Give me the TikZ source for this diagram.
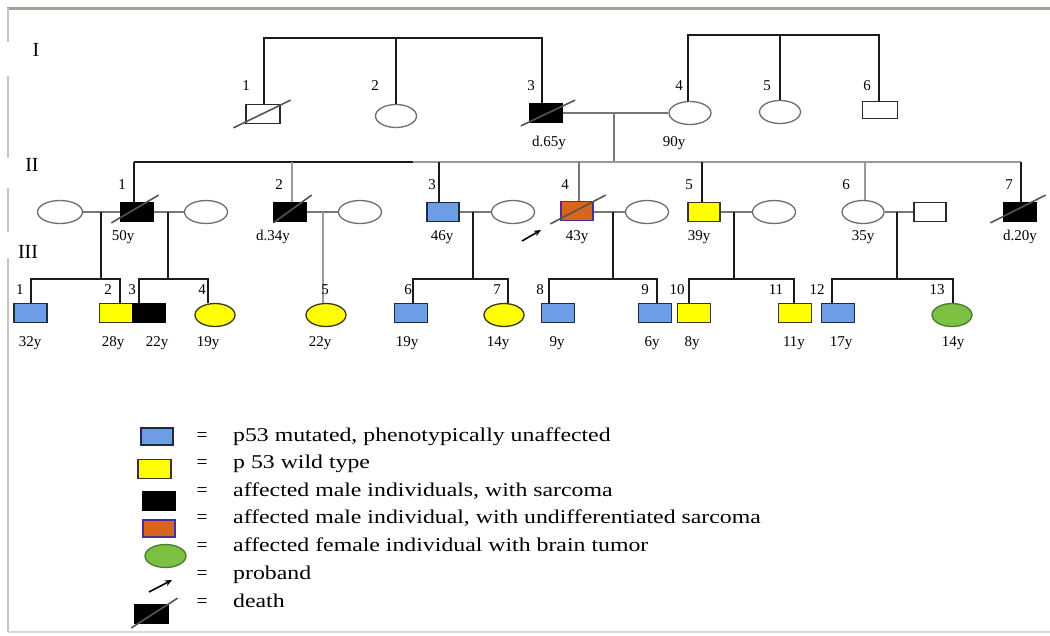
\documentclass[tikz,border=0pt]{standalone}
\usepackage{fontspec}
\setmainfont{Liberation Serif}
\newfontfamily\legfont[FakeStretch=1.22]{Liberation Serif}
\usetikzlibrary{shapes.geometric,arrows.meta}
\definecolor{edgedark}{HTML}{2A2A2A}
\definecolor{edgegray}{HTML}{6E6E6E}
\definecolor{mutblue}{HTML}{6E9DE8}
\definecolor{mutedge}{HTML}{1F2A44}
\definecolor{wildyellow}{HTML}{FFFF00}
\definecolor{wildedge}{HTML}{3A3A1A}
\definecolor{undifforange}{HTML}{D9651B}
\definecolor{undiffedge}{HTML}{4B2E9E}
\definecolor{braingreen}{HTML}{7DC143}
\definecolor{brainedge}{HTML}{4A7A30}
\definecolor{plblack}{HTML}{1A1A1A}
\definecolor{plgray}{HTML}{9A9A9A}
\definecolor{mgray}{HTML}{777777}
\definecolor{slashgray}{HTML}{555555}
\definecolor{framebrown}{HTML}{A89E94}
\definecolor{framegray}{HTML}{C8C4C0}
\definecolor{framelight}{HTML}{D8D8D8}
\newcommand\dmark[5]{\draw[deathline] ([shift={(#2,#3)}]#1.south west) -- ([shift={(#4,#5)}]#1.north east);}
\begin{document}
\begin{tikzpicture}[x=1pt,y=-1pt,
  male/.style={rectangle,minimum width=33pt,minimum height=18.5pt,inner sep=0pt,line width=1.3pt,draw=edgedark},
  female/.style={ellipse,minimum width=41pt,minimum height=23pt,inner sep=0pt,line width=1.3pt,draw=edgegray},
  mut/.style={fill=mutblue,draw=mutedge},
  wild/.style={fill=wildyellow,draw=wildedge},
  sarc/.style={fill=black,draw=black},
  undiff/.style={fill=undifforange,draw=undiffedge},
  brain/.style={fill=braingreen,draw=brainedge},
  pl/.style={line width=1.9pt,draw=plblack},
  gl/.style={line width=1.9pt,draw=plgray},
  ml/.style={line width=1.6pt,draw=mgray},
  deathline/.style={line width=1.6pt,draw=slashgray},
  lbl/.style={font=\fontsize{15}{15}\selectfont,inner sep=0pt},
  gen/.style={font=\fontsize{20}{20}\selectfont,inner sep=0pt},
  leg/.style={font=\legfont\fontsize{19.5}{19.5}\selectfont,inner sep=0pt,anchor=base west},
  eqs/.style={font=\fontsize{19.5}{19.5}\selectfont,inner sep=0pt,anchor=base}
]
\useasboundingbox (0,0) rectangle (1050,635);
\fill[white] (0,0) rectangle (1050,635);
% frame
\draw[framebrown,line width=2.2pt] (7,8.5) -- (1050,8.5);
\draw[framegray,line width=2pt] (8,8) -- (8,42) (8,76) -- (8,158) (8,188) -- (8,232) (8,258) -- (8,632);
\draw[framelight,line width=1.5pt] (8,632) -- (1050,632);
% generation numerals
\node[gen] (gI) at (36,50) {I};
\node[gen] (gII) at (32,165) {II};
\node[gen] (gIII) at (28,252) {III};

% ---------- Generation I ----------
\node[male,minimum width=34pt] (I1) at (263,114) {};
\node[female] (I2) at (396,116) {};
\node[male,sarc] (I3) at (546,113) {};
\node[female,minimum width=42pt] (I4) at (690,113) {};
\node[female] (I5) at (780,112) {};
\node[male,minimum width=35pt,minimum height=17pt] (I6) at (880,110) {};
\dmark{I1}{-12}{4}{10}{-4}
\dmark{I3}{-8}{3}{12}{-3}

\coordinate (tA1) at (264,38);
\coordinate (tA3) at (542,38);
\draw[pl] (tA1 |- I1.north) -- (tA1) -- (tA3) -- (tA3 |- I3.north);
\draw[pl] (I2.north) -- (I2.north |- tA1);
\coordinate (tB1) at (688,35);
\coordinate (tB3) at (879,35);
\draw[pl] (tB1 |- I4.north) -- (tB1) -- (tB3) -- (tB3 |- I6.north);
\draw[pl] (I5.north) -- (I5.north |- tB1);
\draw[ml] (I3.east) -- (I4.west);
\coordinate (mI) at (614,113);
\coordinate (dII) at (614,162);
\draw[ml] (mI) -- (dII);

\node[lbl] (nI1) at (246,86) {1};
\node[lbl] (nI2) at (375,86) {2};
\node[lbl] (nI3) at (531,86) {3};
\node[lbl] (nI4) at (679,86) {4};
\node[lbl] (nI5) at (767,86) {5};
\node[lbl] (nI6) at (867,86) {6};
\node[lbl] (aI3) at (549,143) {d.65y};
\node[lbl] (aI4) at (674,143) {90y};

% ---------- Generation II ----------
\node[female,minimum width=45pt] (W1a) at (60,212) {};
\node[male,sarc,minimum width=32pt] (II1) at (137,212) {};
\node[female,minimum width=43pt] (W1b) at (206,212) {};
\node[male,sarc,minimum width=32pt] (II2) at (290,212) {};
\node[female,minimum width=43pt] (W2) at (360,212) {};
\node[male,mut,minimum width=32pt] (II3) at (443,212) {};
\node[female,minimum width=43pt] (W3) at (513,212) {};
\node[male,undiff,minimum width=32pt] (II4) at (577,211) {};
\node[female,minimum width=43pt] (W4) at (647,212) {};
\node[male,wild,minimum width=32pt] (II5) at (704,212) {};
\node[female,minimum width=43pt] (W5) at (774,212) {};
\node[female,minimum width=42pt] (II6) at (863,212) {};
\node[male,minimum width=32pt] (H6) at (930,212) {};
\node[male,sarc,minimum width=32pt] (II7) at (1020,212) {};
\dmark{II1}{-9}{1}{5}{-7}
\dmark{II2}{0}{1}{5}{-7}
\dmark{II4}{-10}{3}{12}{-6}
\dmark{II7}{-13}{1}{9}{-7}

\coordinate (g1) at (134,162);
\coordinate (gsplit) at (413,162);
\coordinate (g7) at (1021,162);
\draw[pl] (g1) -- (gsplit);
\draw[gl] (gsplit) -- (g7);
\draw[pl] (g1) -- (g1 |- II1.north);
\draw[gl] (II2.north) ++(2,0) coordinate (d2) (d2) -- (d2 |- g1);
\draw[pl] (II3.north) ++(-4,0) coordinate (d3) (d3) -- (d3 |- g1);
\draw[ml] (II4.north) ++(2,0) coordinate (d4) (d4) -- (d4 |- g1);
\draw[pl] (II5.north) ++(-2,0) coordinate (d5) (d5) -- (d5 |- g1);
\draw[gl] (II6.north) ++(2,0) coordinate (d6) (d6) -- (d6 |- g1);
\draw[pl] (g7) -- (g7 |- II7.north);

\draw[ml] (W1a.east) -- (II1.west);
\draw[ml] (II1.east) -- (W1b.west);
\draw[ml] (II2.east) -- (W2.west);
\draw[ml] (II3.east) -- (W3.west);
\draw[ml] (II4.east |- W4.west) -- (W4.west);
\draw[ml] (II5.east) -- (W5.west);
\draw[ml] (II6.east) -- (H6.west);

\node[lbl] (nII1) at (122,185) {1};
\node[lbl] (nII2) at (279,185) {2};
\node[lbl] (nII3) at (432,185) {3};
\node[lbl] (nII4) at (565,185) {4};
\node[lbl] (nII5) at (689,185) {5};
\node[lbl] (nII6) at (846,185) {6};
\node[lbl] (nII7) at (1009,185) {7};
\node[lbl] (aII1) at (123,237) {50y};
\node[lbl] (aII2) at (273,237) {d.34y};
\node[lbl] (aII3) at (442,237) {46y};
\node[lbl] (aII4) at (577,237) {43y};
\node[lbl] (aII5) at (699,237) {39y};
\node[lbl] (aII6) at (863,237) {35y};
\node[lbl] (aII7) at (1020,237) {d.20y};

% proband arrow
\coordinate (pa1) at (522,241);
\coordinate (pa2) at (541,230);
\draw[line width=1.6pt,-{Stealth[length=7pt,width=6pt]}] (pa1) -- (pa2);

% ---------- Generation III ----------
\node[male,mut] (III1) at (30.5,313) {};
\node[male,wild] (III2) at (116,313) {};
\node[male,sarc] (III3) at (149,313) {};
\node[female,wild,minimum width=40pt] (III4) at (215,315) {};
\node[female,wild,minimum width=40pt] (III5) at (326,315) {};
\node[male,mut] (III6) at (411,313) {};
\node[female,wild,minimum width=40pt] (III7) at (504,315) {};
\node[male,mut] (III8) at (558,313) {};
\node[male,mut] (III9) at (655,313) {};
\node[male,wild] (III10) at (694,313) {};
\node[male,wild] (III11) at (795,313) {};
\node[male,mut] (III12) at (838,313) {};
\node[female,brain,minimum width=40pt] (III13) at (952,315) {};

% descent lines
\coordinate (m1a) at (101,212);
\coordinate (m1b) at (168,212);
\coordinate (m2) at (323,212);
\coordinate (m3) at (473,212);
\coordinate (m4) at (613,212);
\coordinate (m5) at (734,212);
\coordinate (m6) at (897,212);
\coordinate (s1aL) at (31,279);  \coordinate (s1aR) at (120,279);
\coordinate (s1bL) at (139,279); \coordinate (s1bR) at (208,279);
\coordinate (s3L) at (413,279);  \coordinate (s3R) at (508,279);
\coordinate (s4L) at (549,279);  \coordinate (s4R) at (657,279);
\coordinate (s5L) at (689,279);  \coordinate (s5R) at (794,279);
\coordinate (s6L) at (832,279);  \coordinate (s6R) at (953,279);

\draw[pl] (m1a) -- (m1a |- s1aL);
\draw[pl] (s1aL |- III1.north) -- (s1aL) -- (s1aR) -- (s1aR |- III2.north);
\draw[pl] (m1b) -- (m1b |- s1bL);
\draw[pl] (s1bL |- III3.north) -- (s1bL) -- (s1bR) -- (s1bR |- III4.north);
\draw[gl] (m2) -- (m2 |- III5.north);
\draw[pl] (m3) -- (m3 |- s3L);
\draw[pl] (s3L |- III6.north) -- (s3L) -- (s3R) -- (s3R |- III7.north);
\draw[pl] (m4) -- (m4 |- s4L);
\draw[pl] (s4L |- III8.north) -- (s4L) -- (s4R) -- (s4R |- III9.north);
\draw[pl] (m5) -- (m5 |- s5L);
\draw[pl] (s5L |- III10.north) -- (s5L) -- (s5R) -- (s5R |- III11.north);
\draw[pl] (m6) -- (m6 |- s6L);
\draw[pl] (s6L |- III12.north) -- (s6L) -- (s6R) -- (s6R |- III13.north);

\node[lbl] (nIII1) at (20,290) {1};
\node[lbl] (nIII2) at (108,290) {2};
\node[lbl] (nIII3) at (132,290) {3};
\node[lbl] (nIII4) at (202,290) {4};
\node[lbl] (nIII5) at (325,290) {5};
\node[lbl] (nIII6) at (408,290) {6};
\node[lbl] (nIII7) at (497,290) {7};
\node[lbl] (nIII8) at (540,290) {8};
\node[lbl] (nIII9) at (645,290) {9};
\node[lbl] (nIII10) at (677,290) {10};
\node[lbl] (nIII11) at (776,290) {11};
\node[lbl] (nIII12) at (817,290) {12};
\node[lbl] (nIII13) at (937,290) {13};
\node[lbl] (aIII1) at (30,343) {32y};
\node[lbl] (aIII2) at (113,343) {28y};
\node[lbl] (aIII3) at (157,343) {22y};
\node[lbl] (aIII4) at (208,343) {19y};
\node[lbl] (aIII5) at (320,343) {22y};
\node[lbl] (aIII6) at (407,343) {19y};
\node[lbl] (aIII7) at (498,343) {14y};
\node[lbl] (aIII8) at (557,343) {9y};
\node[lbl] (aIII9) at (652,343) {6y};
\node[lbl] (aIII10) at (692,343) {8y};
\node[lbl] (aIII11) at (794,343) {11y};
\node[lbl] (aIII12) at (841,343) {17y};
\node[lbl] (aIII13) at (953,343) {14y};

% ---------- Legend ----------
\node[male,mut,minimum width=32pt,minimum height=17pt] (Lmut) at (157,436.5) {};
\node[male,wild] (Lwild) at (154.5,469) {};
\node[male,sarc,minimum width=32pt] (Lsarc) at (159,501) {};
\node[male,undiff,minimum width=32pt,minimum height=17pt] (Lundiff) at (159,528.5) {};
\node[female,brain,minimum width=41pt,minimum height=23pt] (Lbrain) at (165.5,556) {};
\coordinate (La1) at (149,592);
\coordinate (La2) at (172,580);
\draw[line width=1.6pt,-{Stealth[length=7pt,width=6pt]}] (La1) -- (La2);
\node[male,sarc] (Ldeath) at (151.5,614) {};
\dmark{Ldeath}{-3}{4}{9}{-6}

\node[eqs] (e1) at (202,441) {=};
\node[eqs] (e2) at (202,468) {=};
\node[eqs] (e3) at (202,496) {=};
\node[eqs] (e4) at (202,523) {=};
\node[eqs] (e5) at (202,551) {=};
\node[eqs] (e6) at (202,579) {=};
\node[eqs] (e7) at (202,607) {=};
\node[leg] (t1) at (233,441) {p53 mutated, phenotypically unaffected};
\node[leg] (t2) at (233,468) {p 53 wild type};
\node[leg] (t3) at (233,496) {affected male individuals, with sarcoma};
\node[leg] (t4) at (233,523) {affected male individual, with undifferentiated sarcoma};
\node[leg] (t5) at (233,551) {affected female individual with brain tumor};
\node[leg] (t6) at (233,579) {proband};
\node[leg] (t7) at (233,607) {death};
\end{tikzpicture}
\end{document}
